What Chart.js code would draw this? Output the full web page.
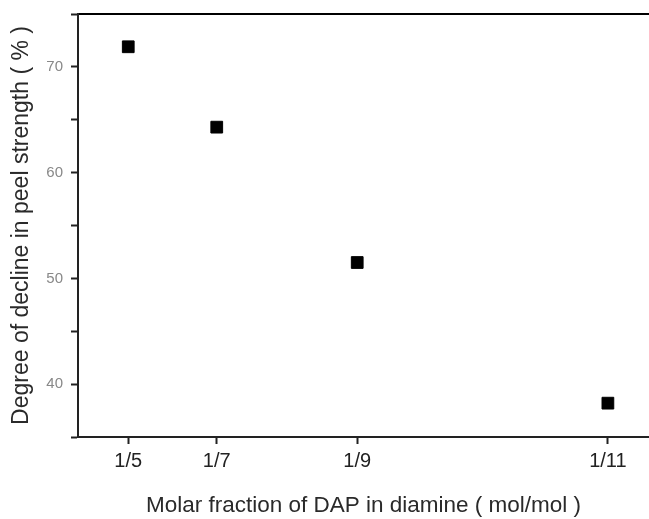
<!DOCTYPE html>
<html>
<head>
<meta charset="utf-8">
<script src="https://cdn.jsdelivr.net/npm/chart.js@4/dist/chart.umd.min.js"></script>
<style>
  html, body { margin: 0; padding: 0; background: #fff; }
  #wrap { width: 649px; height: 519px; }
</style>
</head>
<body>
<div id="wrap"><canvas id="chart"></canvas></div>
<script>
// DAP fraction labels and where each sits along the (non-uniform) x axis
const fractionLabels = ["1/5", "1/7", "1/9", "1/11"];
const fractionPos = [8.8, 24.3, 48.9, 92.8];
// decline in peel strength, %
const declineValues = [71.9, 64.3, 51.5, 38.2];

const FONT = "'Liberation Sans', Arial, sans-serif";

const points = fractionPos.map((x, i) => ({ x: x, y: declineValues[i] }));

new Chart(document.getElementById("chart"), {
  type: "scatter",
  data: {
    datasets: [{
      data: points,
      pointStyle: "rect",
      pointRadius: 8.3,
      pointHoverRadius: 8.3,
      backgroundColor: "#000",
      borderColor: "#000",
      borderWidth: 1
    }]
  },
  options: {
    responsive: true,
    maintainAspectRatio: false,
    animation: false,
    layout: { autoPadding: false, padding: { top: 12, left: 8, right: 0, bottom: 0 } },
    plugins: {
      legend: { display: false },
      tooltip: { enabled: false }
    },
    scales: {
      x: {
        type: "linear",
        min: 0,
        max: 100,
        afterBuildTicks: scale => {
          scale.ticks = fractionPos.map(v => ({ value: v }));
        },
        grid: { drawOnChartArea: false, tickLength: 7, tickColor: "#222", tickWidth: 2 },
        border: { color: "#222", width: 2 },
        ticks: {
          autoSkip: false,
          maxRotation: 0,
          padding: 5,
          color: "#222",
          font: { family: FONT, size: 20 },
          callback: (v, i) => fractionLabels[i]
        },
        title: {
          display: true,
          text: "Molar fraction of DAP in diamine ( mol/mol )",
          color: "#2a2a2a",
          font: { family: FONT, size: 22.5 },
          padding: { top: 14, bottom: 0 }
        }
      },
      xTop: {
        type: "linear",
        position: "top",
        min: 0,
        max: 100,
        grid: { display: false, drawTicks: false },
        border: { color: "#000", width: 2 },
        ticks: { display: false }
      },
      y: {
        min: 35,
        max: 75,
        afterFit: scale => { scale.width = 70; },
        grid: { drawOnChartArea: false, tickLength: 7, tickColor: "#222", tickWidth: 2 },
        border: { color: "#222", width: 2 },
        ticks: {
          stepSize: 5,
          padding: 8,
          color: "#888",
          font: { family: FONT, size: 15, lineHeight: 0.8 },
          callback: v => (v % 10 === 0 && v > 35 && v < 75) ? String(v) : ""
        },
        title: {
          display: true,
          text: "Degree of decline in peel strength ( % )",
          color: "#2a2a2a",
          font: { family: FONT, size: 23 },
          padding: { top: 0, bottom: 8 }
        }
      }
    }
  }
});
</script>
</body>
</html>
